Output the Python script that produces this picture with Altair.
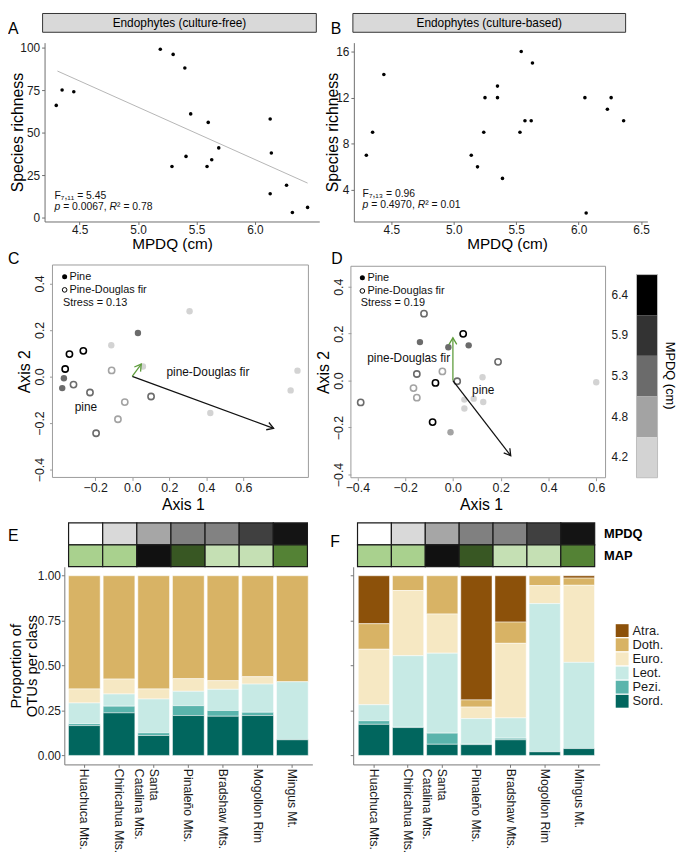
import math
import altair as alt
import pandas as pd

W, H = 677, 846
FONT = "Liberation Sans"

# ---------------- Panel A: culture-free richness vs MPDQ ----------------
a_mpdq = [4.30, 4.35, 4.45, 5.19, 5.30, 5.40, 5.45, 5.60, 5.29, 5.41, 5.59, 5.63, 5.69, 6.13, 6.14, 6.13, 6.27, 6.32, 6.45]
a_rich = [66, 75, 74, 99, 96, 88, 61, 56, 30, 36, 30, 34, 41, 58, 38, 14, 19, 3, 6]
a_fit_mpdq = [4.31, 6.45]
a_fit_rich = [86.2, 20.3]

# ---------------- Panel B: culture-based richness vs MPDQ ----------------
b_mpdq = [4.30, 4.35, 4.44, 5.14, 5.19, 5.24, 5.25, 5.35, 5.35, 5.39, 5.53, 5.54, 5.57, 5.62, 5.63, 6.05, 6.06, 6.23, 6.26, 6.36]
b_rich = [7, 9, 14, 7, 6, 9, 12, 13, 12, 5, 9, 16, 10, 10, 15, 12, 2, 11, 12, 10]

# ---------------- Panel C: NMDS culture-free ----------------
c_pine_ax1 = [0.31, 0.031, -0.113, 0.058, -0.369, -0.378, 0.422, 0.856, 0.893]
c_pine_ax2 = [0.28, 0.187, 0.134, 0.043, -0.008, -0.05, -0.157, -0.06, 0.025]
c_pine_lvl = ["4.2", "5.3", "4.2", "4.2", "5.3", "5.3", "4.2", "4.2", "4.2"]
c_pdf_ax1 = [-0.339, -0.264, -0.362, -0.317, -0.228, -0.111, -0.04, -0.077, 0.102, -0.195]
c_pdf_ax2 = [0.096, 0.11, 0.032, -0.035, -0.069, 0.026, -0.11, -0.184, -0.086, -0.244]
c_pdf_lvl = ["6.4", "6.4", "6.4", "5.3", "5.3", "4.8", "4.8", "4.8", "5.3", "5.3"]
c_vec_black = [0.764, -0.223]
c_vec_green = [0.049, 0.053]

# ---------------- Panel D: NMDS culture-based ----------------
d_pine_ax1 = [-0.138, -0.019, 0.066, 0.124, 0.127, 0.048, 0.048, 0.087, -0.01, 0.6]
d_pine_ax2 = [0.164, 0.142, 0.15, 0.014, -0.091, -0.081, -0.119, -0.077, -0.22, -0.007]
d_pine_lvl = ["5.3", "5.3", "5.3", "4.2", "4.2", "4.2", "4.2", "4.2", "4.8", "4.2"]
d_pdf_ax1 = [-0.121, 0.043, 0.189, -0.044, -0.151, -0.165, -0.151, -0.073, 0.018, -0.386, -0.085]
d_pdf_ax2 = [0.285, 0.199, 0.08, 0.039, 0.028, -0.032, -0.073, -0.01, -0.003, -0.093, -0.177]
d_pdf_lvl = ["5.3", "6.4", "5.3", "4.8", "5.3", "4.8", "4.8", "6.4", "5.3", "5.3", "6.4"]
d_vec_black = [0.242, -0.32]
d_vec_green = [0.0, 0.182]

mpdq_levels = ["6.4", "5.9", "5.3", "4.8", "4.2"]
mpdq_grays = ["#000000", "#333333", "#6b6b6b", "#a3a3a3", "#d3d3d3"]

# ---------------- Panels E/F: class proportions ----------------
sites = ["Huachuca Mts.", "Chiricahua Mts.", "Santa Catalina Mts.", "Pinaleño Mts.",
         "Bradshaw Mts.", "Mogollon Rim", "Mingus Mt."]
site_mpdq = [4.30, 4.62, 5.05, 5.37, 5.35, 5.91, 6.28]
site_map = [600, 600, 950, 800, 500, 500, 700]
map_levels = [500, 600, 700, 800, 950]
map_greens = ["#c5e0b4", "#a9d18e", "#548235", "#385723", "#111111"]

classes = ["Atra.", "Doth.", "Euro.", "Leot.", "Pezi.", "Sord."]
class_colors = ["#8c510a", "#d8b365", "#f6e8c3", "#c7eae5", "#5ab4ac", "#01665e"]

e_atra = [0, 0, 0, 0, 0, 0, 0]
e_doth = [0.630, 0.575, 0.630, 0.573, 0.584, 0.562, 0.590]
e_euro = [0.078, 0.083, 0.056, 0.070, 0.048, 0.041, 0.0]
e_leot = [0.115, 0.068, 0.188, 0.080, 0.118, 0.157, 0.323]
e_pezi = [0.011, 0.037, 0.015, 0.055, 0.032, 0.018, 0.0]
e_sord = [0.166, 0.237, 0.111, 0.222, 0.218, 0.222, 0.087]

f_atra = [0.267, 0.0, 0.0, 0.691, 0.258, 0.0, 0.013]
f_doth = [0.142, 0.082, 0.213, 0.040, 0.118, 0.055, 0.040]
f_euro = [0.309, 0.363, 0.218, 0.064, 0.415, 0.100, 0.429]
f_leot = [0.089, 0.398, 0.445, 0.140, 0.113, 0.825, 0.480]
f_pezi = [0.020, 0.002, 0.062, 0.005, 0.009, 0.0, 0.0]
f_sord = [0.173, 0.155, 0.062, 0.060, 0.087, 0.020, 0.038]


# ================= helpers =================
def qs(dom, rng):
    return alt.Scale(domain=dom, range=rng, nice=False, zero=False)


def txt(sx, sy, xv, yv, label, size=12, align="center", italic=False, dx=0, color="#111111"):
    df = pd.DataFrame({"x": [xv], "y": [yv], "t": [label]})
    return alt.Chart(df).mark_text(
        align=align, baseline="middle", fontSize=size, dx=dx, color=color,
        fontStyle="italic" if italic else "normal",
    ).encode(x=alt.X("x:Q", scale=sx, axis=None), y=alt.Y("y:Q", scale=sy, axis=None), text="t:N")


def ptext(xpx, ypx, label, size=16, align="left", angle=0, weight="normal"):
    return alt.Chart(pd.DataFrame({"d": [0]})).mark_text(
        align=align, baseline="middle", fontSize=size, angle=angle, fontWeight=weight, color="#000000"
    ).encode(x=alt.value(xpx), y=alt.value(ypx), text=alt.value(label))


layers = []

# ================= A & B =================
AX = qs([4.2, 6.55], [37, 315])
AY = qs([-2.3, 102.9], [211, 30])
BX = qs([4.2, 6.55], [350, 647])
BY = qs([1.26, 16.77], [211, 30])

GR = "#6e6e6e"


def sc_axes(xvals, titlex, offy, yvals, ytitlex):
    axx = alt.Axis(orient="bottom", offset=211 - H, values=xvals, format=".1f", tickSize=3, labelPadding=0,
                   title="MPDQ (cm)", titleX=titlex, titleY=22.5, titleBaseline="middle", titleFontSize=15.5,
                   domainColor=GR, tickColor=GR, labelFontSize=12)
    axy = alt.Axis(orient="left", offset=offy, values=yvals, format="d", tickSize=3, labelPadding=2,
                   title="Species richness", titleX=ytitlex, titleBaseline="middle",
                   domainColor=GR, tickColor=GR, labelFontSize=12)
    return axx, axy


axAx, axAy = sc_axes([4.5, 5.0, 5.5, 6.0], 166, -37, [0, 25, 50, 75, 100], -27)
axBx, axBy = sc_axes([4.5, 5.0, 5.5, 6.0, 6.5], 505, -350, [4, 8, 12, 16], -21.5)

layers.append(
    alt.Chart(pd.DataFrame({"m": a_fit_mpdq, "r": a_fit_rich})).mark_line(color="#b5b5b5", strokeWidth=1)
    .encode(x=alt.X("m:Q", scale=AX, axis=None), y=alt.Y("r:Q", scale=AY, axis=None))
)
layers.append(
    alt.Chart(pd.DataFrame({"m": a_mpdq, "r": a_rich})).mark_circle(size=13, color="#000000", opacity=1)
    .encode(x=alt.X("m:Q", scale=AX, axis=axAx), y=alt.Y("r:Q", scale=AY, axis=axAy))
)
layers.append(
    alt.Chart(pd.DataFrame({"m": b_mpdq, "r": b_rich})).mark_circle(size=13, color="#000000", opacity=1)
    .encode(x=alt.X("m:Q", scale=BX, axis=axBx), y=alt.Y("r:Q", scale=BY, axis=axBy))
)

# stats annotations
layers += [
    txt(AX, AY, 4.285, 12.9, "F₇,₁₁ = 5.45", size=10.5, align="left"),
    txt(AX, AY, 4.285, 6.4, "p", size=10.5, align="left", italic=True),
    txt(AX, AY, 4.285, 6.4, "= 0.0067,", size=10.5, align="left", dx=8.76),
    txt(AX, AY, 4.285, 6.4, "R", size=10.5, align="left", italic=True, dx=55.76),
    txt(AX, AY, 4.285, 6.4, "² = 0.78", size=10.5, align="left", dx=63.34),
    txt(BX, BY, 4.27, 3.6, "F₇,₁₃ = 0.96", size=10.5, align="left"),
    txt(BX, BY, 4.27, 2.69, "p", size=10.5, align="left", italic=True),
    txt(BX, BY, 4.27, 2.69, "= 0.4970,", size=10.5, align="left", dx=8.76),
    txt(BX, BY, 4.27, 2.69, "R", size=10.5, align="left", italic=True, dx=55.76),
    txt(BX, BY, 4.27, 2.69, "² = 0.01", size=10.5, align="left", dx=63.34),
]

# facet strips
for x0, x1, lab in [(35, 312, "Endophytes (culture-free)"), (349, 625, "Endophytes (culture-based)")]:
    layers.append(
        alt.Chart(pd.DataFrame({"d": [0]})).mark_rect(fill="#d9d9d9", stroke="#333333", strokeWidth=1)
        .encode(x=alt.value(x0), x2=alt.value(x1), y=alt.value(0.5), y2=alt.value(19.5))
    )
    layers.append(ptext((x0 + x1) / 2, 10, lab, size=12, align="center"))

# ================= C & D =================
CX = qs([-0.4307, 0.952], [45, 304])
CY = qs([-0.434, 0.479], [470, 255])
DX = qs([-0.427, 0.639], [347, 604.7])
DY = qs([-0.414, 0.487], [470.3, 256.3])
LVL = alt.Scale(domain=mpdq_levels, range=mpdq_grays)
FR = "#9a9a9a"
ARROW = "M-1,-0.6L0,0L-1,0.6"


def nmds_panel(sx, sy, bottom, left, titlex, xvals,
               pine, pdf, vb, vg, lab_pdf, lab_pine, leg, stress):
    out = []
    xdom, ydom = sx.domain, sy.domain
    axx = alt.Axis(orient="bottom", offset=bottom - H, values=xvals, format=".1f", tickSize=3,
                   labelPadding=1, domain=False, tickColor=FR, labelFontSize=12.5,
                   title="Axis 1", titleX=titlex, titleY=27, titleBaseline="middle")
    axy = alt.Axis(orient="left", offset=-left, values=[-0.4, -0.2, 0.0, 0.2, 0.4], format=".1f",
                   tickSize=3, labelPadding=3, domain=False, tickColor=FR, labelFontSize=12.5,
                   labelAngle=270, labelAlign="center", labelBaseline="bottom",
                   title="Axis 2", titleX=-28, titleBaseline="middle")
    out.append(
        alt.Chart(pd.DataFrame({"x0": [xdom[0]], "x1": [xdom[1]], "y0": [ydom[0]], "y1": [ydom[1]]}))
        .mark_rect(fill=None, stroke=FR, strokeWidth=1)
        .encode(x=alt.X("x0:Q", scale=sx, axis=axx), x2="x1:Q",
                y=alt.Y("y0:Q", scale=sy, axis=axy), y2="y1:Q")
    )
    out.append(
        alt.Chart(pd.DataFrame({"a1": pine[0], "a2": pine[1], "l": pine[2]}))
        .mark_circle(size=42, opacity=1)
        .encode(x=alt.X("a1:Q", scale=sx, axis=None), y=alt.Y("a2:Q", scale=sy, axis=None),
                color=alt.Color("l:N", scale=LVL, legend=None))
    )
    out.append(
        alt.Chart(pd.DataFrame({"a1": pdf[0], "a2": pdf[1], "l": pdf[2]}))
        .mark_point(size=40, filled=False, strokeWidth=1.6, opacity=1)
        .encode(x=alt.X("a1:Q", scale=sx, axis=None), y=alt.Y("a2:Q", scale=sy, axis=None),
                color=alt.Color("l:N", scale=LVL, legend=None))
    )
    kx = (sx.range[1] - sx.range[0]) / (sx.domain[1] - sx.domain[0])
    ky = (sy.range[0] - sy.range[1]) / (sy.domain[1] - sy.domain[0])
    for v, col in [(vb, "#111111"), (vg, "#5e9c3c")]:
        ang = math.degrees(math.atan2(-v[1] * ky, v[0] * kx)) % 360
        df = pd.DataFrame({"x0": [0.0], "y0": [0.0], "x1": [v[0]], "y1": [v[1]]})
        out.append(
            alt.Chart(df).mark_rule(color=col, strokeWidth=1.3)
            .encode(x=alt.X("x0:Q", scale=sx, axis=None), x2="x1:Q",
                    y=alt.Y("y0:Q", scale=sy, axis=None), y2="y1:Q")
        )
        out.append(
            alt.Chart(df).mark_point(shape=ARROW, filled=False, size=170, strokeWidth=1.3,
                                     angle=ang, color=col, opacity=1)
            .encode(x=alt.X("x1:Q", scale=sx, axis=None), y=alt.Y("y1:Q", scale=sy, axis=None))
        )
    out.append(txt(sx, sy, lab_pdf[0], lab_pdf[1], "pine-Douglas fir", size=12))
    out.append(txt(sx, sy, lab_pine[0], lab_pine[1], "pine", size=12))
    lx, ltx, y1, y2, sxp, y3 = leg
    out.append(
        alt.Chart(pd.DataFrame({"x": [lx], "y": [y1]})).mark_circle(size=26, color="#000000", opacity=1)
        .encode(x=alt.X("x:Q", scale=sx, axis=None), y=alt.Y("y:Q", scale=sy, axis=None))
    )
    out.append(
        alt.Chart(pd.DataFrame({"x": [lx], "y": [y2]})).mark_point(size=22, filled=False, color="#000000",
                                                                   strokeWidth=1, opacity=1)
        .encode(x=alt.X("x:Q", scale=sx, axis=None), y=alt.Y("y:Q", scale=sy, axis=None))
    )
    out.append(txt(sx, sy, ltx, y1, "Pine", size=11, align="left"))
    out.append(txt(sx, sy, ltx, y2, "Pine-Douglas fir", size=11, align="left"))
    out.append(txt(sx, sy, sxp, y3, stress, size=11, align="left"))
    return out


layers += nmds_panel(CX, CY, 470, 45, 177, [-0.2, 0.0, 0.2, 0.4, 0.6],
                     (c_pine_ax1, c_pine_ax2, c_pine_lvl), (c_pdf_ax1, c_pdf_ax2, c_pdf_lvl),
                     c_vec_black, c_vec_green, (0.409, 0.017), (-0.25, -0.131),
                     (-0.365, -0.339, 0.428, 0.372, -0.374, 0.315), "Stress = 0.13")
layers += nmds_panel(DX, DY, 470.3, 347, 478.7, [-0.4, -0.2, 0.0, 0.2, 0.4, 0.6],
                     (d_pine_ax1, d_pine_ax2, d_pine_lvl), (d_pdf_ax1, d_pdf_ax2, d_pdf_lvl),
                     d_vec_black, d_vec_green, (-0.185, 0.098), (0.127, -0.042),
                     (-0.379, -0.358, 0.438, 0.382, -0.386, 0.33), "Stress = 0.19")

# MPDQ colour bar
layers.append(
    alt.Chart(pd.DataFrame({"l": mpdq_levels})).mark_rect()
    .encode(x=alt.value(636), x2=alt.value(657.3),
            y=alt.Y("l:N", scale=alt.Scale(domain=mpdq_levels, range=[264.7, 470.3], paddingInner=0, paddingOuter=0),
                    axis=alt.Axis(orient="left", offset=-636, ticks=False, tickSize=0, domain=False,
                                  labelPadding=9, labelFontSize=12, title=None)),
            color=alt.Color("l:N", scale=LVL, legend=None))
)
layers.append(
    alt.Chart(pd.DataFrame({"d": [0]})).mark_rect(fill=None, stroke="#bdbdbd", strokeWidth=1)
    .encode(x=alt.value(636), x2=alt.value(657.3), y=alt.value(264.7), y2=alt.value(470.3))
)
layers.append(ptext(670, 367, "MPDQ (cm)", size=13, align="center", angle=90))

# ================= E & F =================
HY = alt.Scale(domain=["MPDQ", "MAP"], range=[516, 560.3], paddingInner=0, paddingOuter=0)
heat_df = pd.DataFrame({"site": sites, "mpdq": site_mpdq, "map": site_map, "r1": "MPDQ", "r2": "MAP"})
YB = qs([-0.05, 1.05], [760.4, 560.4])
AXC = "#777777"
LABEXPR = "datum.label == 'Santa Catalina Mts.' ? ['Santa', 'Catalina Mts.'] : datum.label"


def long_df(cols):
    rows = []
    for i, s in enumerate(sites):
        for k, cls in enumerate(classes):
            v = cols[k][i]
            if v > 0:
                rows.append({"site": s, "cls": cls, "prop": v, "ord": 5 - k})
    return pd.DataFrame(rows)


def class_panel(cols, xrng, po, left, hx, ylabels, legend, rowlabels):
    out = []
    hxs = alt.Scale(domain=sites, range=hx, paddingInner=0, paddingOuter=0)
    rax = None
    if rowlabels:
        rax = alt.Axis(orient="right", offset=598.7 - W, ticks=False, tickSize=0, domain=False,
                       labelPadding=4, labelFontWeight="bold", labelFontSize=13, labelColor="#000000",
                       title=None)
    out.append(
        alt.Chart(heat_df).mark_rect(stroke="#1a1a1a", strokeWidth=1.2)
        .encode(x=alt.X("site:N", scale=hxs, axis=None),
                y=alt.Y("r1:N", scale=HY, axis=rax),
                color=alt.Color("mpdq:Q", scale=alt.Scale(domain=[4.3, 6.45], range=["#ffffff", "#000000"],
                                                          interpolate="rgb"), legend=None))
    )
    out.append(
        alt.Chart(heat_df).mark_rect(stroke="#1a1a1a", strokeWidth=1.2)
        .encode(x=alt.X("site:N", scale=hxs, axis=None),
                y=alt.Y("r2:N", scale=HY, axis=None),
                color=alt.Color("map:O", scale=alt.Scale(domain=map_levels, range=map_greens), legend=None))
    )
    axx = alt.Axis(orient="bottom", offset=760.4 - H, labelAngle=90, labelAlign="left", labelBaseline="middle",
                   tickSize=3, labelPadding=1, title=None, labelFontSize=12.3, labelLineHeight=15,
                   labelExpr=LABEXPR, domainColor=AXC, tickColor=AXC)
    if ylabels:
        axy = alt.Axis(orient="left", offset=-left, values=[0, 0.25, 0.5, 0.75, 1.0], format=".2f", tickSize=3,
                       labelPadding=1, labelFontSize=12, domainColor=AXC, tickColor=AXC, title=None)
    else:
        axy = alt.Axis(orient="left", offset=-left, values=[0, 0.25, 0.5, 0.75, 1.0], tickSize=3,
                       labels=False, domainColor=AXC, tickColor=AXC, title=None)
    out.append(
        alt.Chart(long_df(cols)).mark_bar(stroke="white", strokeWidth=0.5)
        .encode(x=alt.X("site:N", scale=alt.Scale(domain=sites, range=xrng, paddingInner=0.086, paddingOuter=po),
                        axis=axx),
                y=alt.Y("prop:Q", stack="zero", scale=YB, axis=axy),
                color=alt.Color("cls:N", scale=alt.Scale(domain=classes, range=class_colors), legend=legend),
                order=alt.Order("ord:Q", sort="ascending"))
    )
    return out


legF = alt.Legend(orient="none", legendX=615, legendY=618.5, title=None, symbolType="square", symbolSize=169,
                  labelFontSize=13, symbolStrokeWidth=0, padding=0, rowPadding=0.3, labelOffset=4,
                  labelColor="#1a1a1a")

layers += class_panel([e_atra, e_doth, e_euro, e_leot, e_pezi, e_sord], [57, 308], 0.12, 57,
                      [61.3, 303], True, None, False)
layers += class_panel([f_atra, f_doth, f_euro, f_leot, f_pezi, f_sord], [349.3, 598.7], 0.15, 349.3,
                      [353.7, 593.7], False, legF, True)

# y-axis title of panel E (two lines)
layers.append(ptext(8.5, 661, "Proportion of", size=15, align="center", angle=270))
layers.append(ptext(24, 661, "OTUs per class", size=15, align="center", angle=270))

# panel letters
for lx, ly, al, letter in [(0, 16, "left", "A"), (332, 16, "center", "B"), (0, 249, "left", "C"),
                           (333, 249, "center", "D"), (0, 529, "left", "E"), (331, 535, "center", "F")]:
    layers.append(ptext(lx, ly, letter, size=16, align=al))

chart = (
    alt.layer(*layers)
    .resolve_scale(x="independent", y="independent", color="independent")
    .properties(width=W, height=H, padding=0, autosize=alt.AutoSizeParams(type="none"), background="white")
    .configure_view(stroke=None)
    .configure_axis(grid=False, labelFont=FONT, titleFont=FONT, labelColor="#1a1a1a", titleColor="#000000",
                    titleFontWeight="normal", titleFontSize=16, labelFlush=False, labelOverlap=False)
    .configure_text(font=FONT)
    .configure_legend(labelFont=FONT)
)

chart.save("out.html", embed_options={"renderer": "svg", "actions": False})
